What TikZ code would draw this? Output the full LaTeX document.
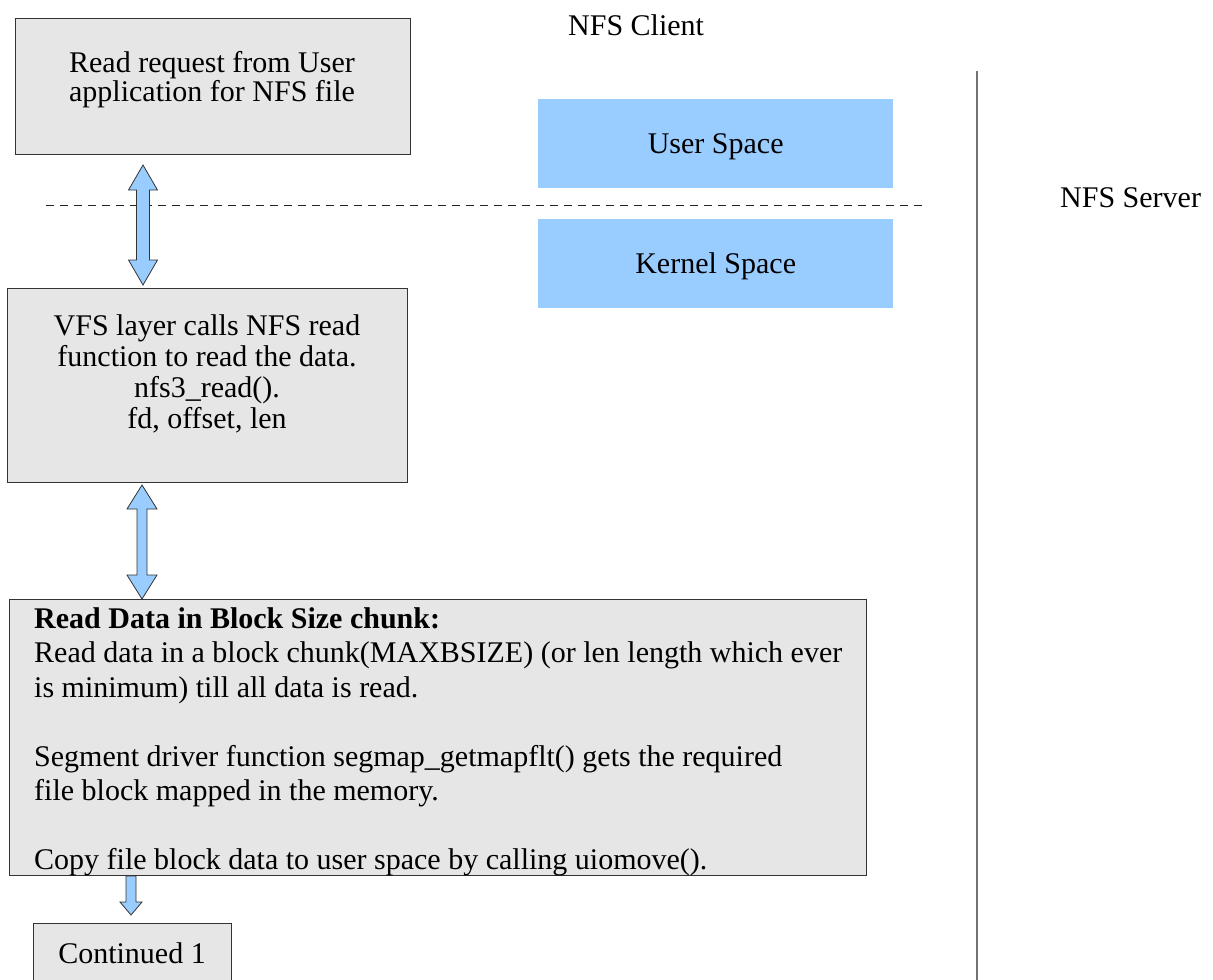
\documentclass[tikz,border=0pt]{standalone}
\usepackage{fontspec}
\setmainfont{Liberation Serif}
\usetikzlibrary{calc}
\definecolor{boxgray}{HTML}{E6E6E6}
\definecolor{lblue}{HTML}{99CCFF}
\newcommand\myfs{\fontsize{30}{34}\selectfont}
\newcommand\dblarrow[5]{% top tip, bottom tip, shaft half width, head half width, head length
  \draw[barrow] (#1) -- ($(#1)+(#4,#5)$) -- ($(#1)+(#3,#5)$) -- ($(#2)+(#3,-#5)$) -- ($(#2)+(#4,-#5)$)
    -- (#2) -- ($(#2)+(-#4,-#5)$) -- ($(#2)+(-#3,-#5)$) -- ($(#1)+(-#3,#5)$) -- ($(#1)+(-#4,#5)$) -- cycle;}
\begin{document}
\begin{tikzpicture}[x=1pt,y=-1pt,
  greybox/.style={draw=black!80, line width=1pt, fill=boxgray, inner sep=0pt, anchor=north west},
  bluebox/.style={fill=lblue, draw=none, inner sep=0pt, anchor=north west, minimum width=355pt, minimum height=89pt},
  lbl/.style={inner sep=0pt, anchor=base, font=\myfs},
  lblw/.style={inner sep=0pt, anchor=base west, font=\myfs},
  barrow/.style={draw=black!80, line width=0.8pt, fill=lblue, line join=miter}]
\useasboundingbox (0,0) rectangle (1213,980);
\clip (0,0) rectangle (1213,980);

% boxes
\node[greybox, minimum width=395pt, minimum height=136pt] (b1) at (15,18) {};
\node[greybox, minimum width=400pt, minimum height=194pt] (b2) at (7,288) {};
\node[greybox, minimum width=857pt, minimum height=276pt] (b3) at (9,599) {};
\node[greybox, minimum width=198pt, minimum height=80pt] (b4) at (33,923) {};
\node[bluebox] (us) at (538,99) {};
\node[bluebox] (ks) at (538,219) {};

% separators
\coordinate (d1) at (46,205);
\coordinate (d2) at (925,205);
\draw[black!85, line width=1pt, dash pattern=on 8pt off 6pt] (d1) -- (d2);
\coordinate (v1) at (977,71);
\coordinate (v2) at (977,980);
\draw[black!55, line width=1.5pt] (v1) -- (v2);

% titles
\node[lblw] (client) at (568,35) {NFS Client};
\node[lblw] (server) at (1060,207) {NFS Server};
\node[lbl] (ust) at ($(us.center)+(0,10)$) {User Space};
\node[lbl] (kst) at ($(ks.center)+(0,10)$) {Kernel Space};

% box 1 text
\node[lbl] (t1a) at (212,72) {Read request from User};
\node[lbl] (t1b) at (212,101) {application for NFS file};

% box 2 text
\node[lbl] (t2a) at (207,335) {VFS layer calls NFS read};
\node[lbl] (t2b) at (207,366) {function to read the data.};
\node[lbl] (t2c) at (207,397) {nfs3\_read().};
\node[lbl] (t2d) at (207,428) {fd, offset, len};

% box 3 text
\node[lblw] (t3a) at (34,628) {\bfseries Read Data in Block Size chunk:};
\node[lblw] (t3b) at (34,662) {Read data in a block chunk(MAXBSIZE) (or len length which ever};
\node[lblw] (t3c) at (34,697) {is minimum) till all data is read.};
\node[lblw] (t3d) at (34,766) {Segment driver function segmap\_getmapflt() gets the required};
\node[lblw] (t3e) at (34,800) {file block mapped in the memory.};
\node[lblw] (t3f) at (34,869) {Copy file block data to user space by calling uiomove().};

% box 4 text
\node[lbl] (t4) at (132,963) {Continued 1};

% arrows
\coordinate (a1t) at ($(b1.south west)+(128,10)$);
\coordinate (a1b) at ($(b2.north west)+(136,-3)$);
\dblarrow{a1t}{a1b}{6.5}{14.5}{25}
\coordinate (a2t) at ($(b2.south west)+(135,2)$);
\coordinate (a2b) at ($(b3.north west)+(133,0)$);
\dblarrow{a2t}{a2b}{5}{15}{24}
\coordinate (a3t) at ($(b3.south west)+(122,0)$);
\coordinate (a3b) at ($(b4.north west)+(98,-8)$);
\draw[barrow] ($(a3t)+(-5,0)$) -- ($(a3t)+(5,0)$) -- ($(a3b)+(5,-13)$) -- ($(a3b)+(11,-13)$) -- (a3b)
  -- ($(a3b)+(-11,-13)$) -- ($(a3b)+(-5,-13)$) -- cycle;
\end{tikzpicture}
\end{document}
